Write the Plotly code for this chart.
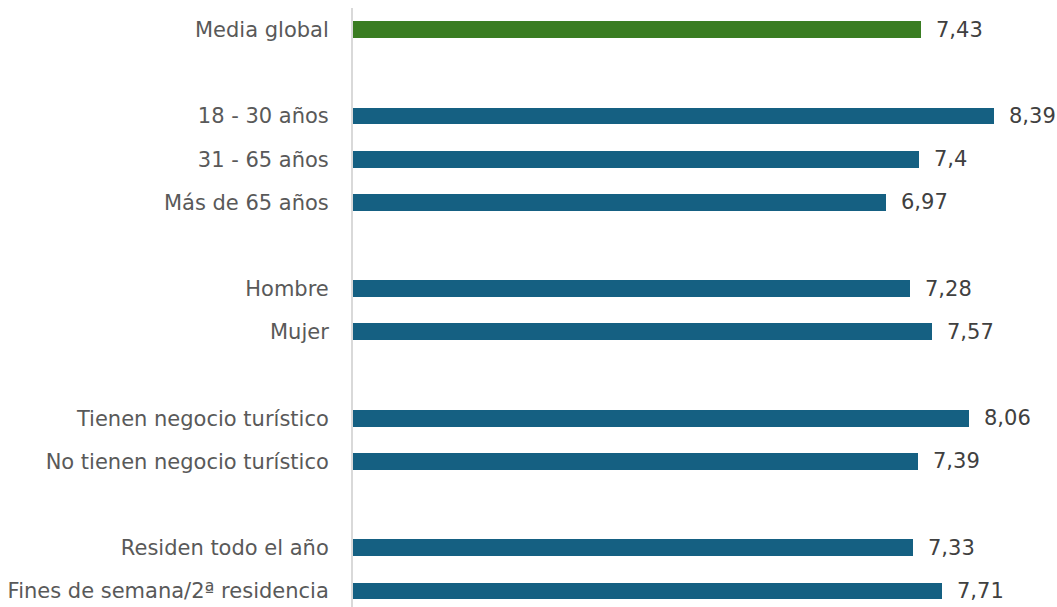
import plotly.graph_objects as go

# Satisfaction scores by respondent group (blank entries separate the groups)
categories = [
    "Media global", " ",
    "18 - 30 años", "31 - 65 años", "Más de 65 años", "  ",
    "Hombre", "Mujer", "   ",
    "Tienen negocio turístico", "No tienen negocio turístico", "    ",
    "Residen todo el año", "Fines de semana/2ª residencia",
]
values = [7.43, None, 8.39, 7.40, 6.97, None, 7.28, 7.57, None, 8.06, 7.39, None, 7.33, 7.71]
labels = ["7,43", "", "8,39", "7,4", "6,97", "", "7,28", "7,57", "", "8,06", "7,39", "", "7,33", "7,71"]

GREEN = "#3A7D22"
BLUE = "#156082"
FONT = "DejaVu Sans, Open Sans, sans-serif"
colors = [GREEN if c == "Media global" else BLUE for c in categories]

fig = go.Figure(
    go.Bar(
        x=values,
        y=categories,
        orientation="h",
        marker=dict(color=colors, line=dict(width=0)),
        width=0.39,
        hoverinfo="skip",
    )
)

for c, v, t in zip(categories, values, labels):
    if v is None:
        continue
    fig.add_annotation(
        x=v, y=c, text=t, showarrow=False,
        xanchor="left", yanchor="middle", xshift=13,
        font=dict(family=FONT, size=21, color="#404040"),
    )

fig.update_layout(
    width=1057, height=607,
    margin=dict(l=353, r=16, t=8, b=0),
    paper_bgcolor="white", plot_bgcolor="white",
    showlegend=False,
    font=dict(family=FONT, size=21, color="#595959"),
    bargap=0,
)
fig.update_xaxes(range=[0, 9], visible=False, fixedrange=True)
fig.update_yaxes(
    type="category",
    categoryorder="array", categoryarray=categories,
    range=[13.37, -0.5],
    showline=True, linecolor="#D9D9D9", linewidth=2,
    showgrid=False, zeroline=False,
    ticks="", ticklen=0, ticklabelstandoff=18,
    tickfont=dict(family=FONT, size=21, color="#595959"),
    fixedrange=True,
)

fig.write_html("out.html")
